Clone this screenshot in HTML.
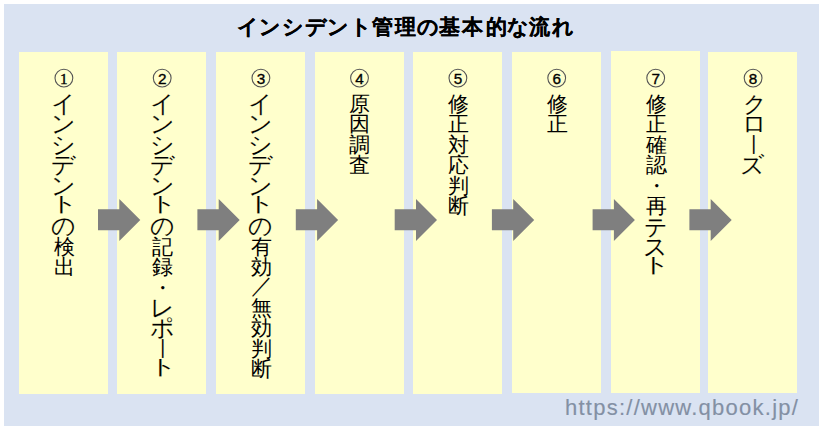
<!DOCTYPE html>
<html lang="ja"><head><meta charset="utf-8"><style>
*{margin:0;padding:0;box-sizing:border-box}
html,body{width:822px;height:430px;background:#fff;overflow:hidden}
body{position:relative;font-family:"Liberation Sans",sans-serif;color:#000}
.bg{position:absolute;left:4px;top:4px;width:815px;height:422px;background:#dae3f2}
.title{position:absolute;left:0;top:13.7px;font-size:21px;font-weight:bold;line-height:26px;white-space:nowrap;color:#000;-webkit-text-stroke:0.12px #000}
.title span{position:absolute;top:0;width:22.3px;text-align:center}
.col{position:absolute;width:89.2px;background:#ffffcc}
.arr{position:absolute;left:0;top:0}
.arr polygon{fill:#7f7f7f}
.txt{position:absolute;width:89.2px;text-align:center;font-size:20.5px;line-height:20.4px;color:#000}
.txt div{height:20.4px}
.txt span{display:inline-block}
.txt span{-webkit-text-stroke:0.1px #ffffcc}
.url{position:absolute;left:565px;top:395px;font-size:22px;line-height:26px;color:#8390a4;white-space:nowrap;letter-spacing:1.25px;-webkit-text-stroke:0.15px #8390a4}
</style></head><body>
<div class="bg"></div>
<div class="title"><span style="left:237.2px">イ</span><span style="left:259.15px">ン</span><span style="left:281.6px">シ</span><span style="left:304.75px">デ</span><span style="left:327.2px">ン</span><span style="left:349.55px">ト</span><span style="left:371.75px">管</span><span style="left:394.3px">理</span><span style="left:416.7px">の</span><span style="left:438.2px">基</span><span style="left:461.7px">本</span><span style="left:485.1px">的</span><span style="left:506.75px">な</span><span style="left:528.55px">流</span><span style="left:551.55px">れ</span></div>
<div class="col" style="left:19px;top:52px;height:342.0px"></div><div class="col" style="left:117.3px;top:52px;height:342.0px"></div><div class="col" style="left:216px;top:52px;height:341.8px"></div><div class="col" style="left:314.6px;top:52px;height:342.0px"></div><div class="col" style="left:413px;top:52px;height:341.8px"></div><div class="col" style="left:511.8px;top:52px;height:341.0px"></div><div class="col" style="left:610.8px;top:50.5px;height:342.5px"></div><div class="col" style="left:708.2px;top:52px;height:340.6px"></div><svg class="arr" width="822" height="430" viewBox="0 0 822 430"><polygon points="98.0,209.3 119.3,209.3 119.3,199.1 140.3,220.0 119.3,240.9 119.3,230.3 98.0,230.3"/><polygon points="197.4,209.3 218.7,209.3 218.7,199.1 239.7,220.0 218.7,240.9 218.7,230.3 197.4,230.3"/><polygon points="295.8,209.3 317.1,209.3 317.1,199.1 338.1,220.0 317.1,240.9 317.1,230.3 295.8,230.3"/><polygon points="394.7,209.3 416.0,209.3 416.0,199.1 437.0,220.0 416.0,240.9 416.0,230.3 394.7,230.3"/><polygon points="491.9,209.3 513.2,209.3 513.2,199.1 534.2,220.0 513.2,240.9 513.2,230.3 491.9,230.3"/><polygon points="592.6,209.3 613.9,209.3 613.9,199.1 634.9,220.0 613.9,240.9 613.9,230.3 592.6,230.3"/><polygon points="689.4,209.3 710.7,209.3 710.7,199.1 731.7,220.0 710.7,240.9 710.7,230.3 689.4,230.3"/><circle cx="63.90" cy="78.1" r="8.9" fill="none" stroke="#555" stroke-width="1.1"/><text x="63.90" y="84.0" text-anchor="middle" stroke="#000" stroke-width="0.35" style="font-family:'Liberation Serif', serif;font-weight:normal;font-size:15.3px">1</text><circle cx="162.20" cy="78.1" r="8.9" fill="none" stroke="#555" stroke-width="1.1"/><text x="162.20" y="84.0" text-anchor="middle" stroke="#000" stroke-width="0.35" style="font-family:'Liberation Sans', sans-serif;font-weight:normal;font-size:15.3px">2</text><circle cx="260.90" cy="78.1" r="8.9" fill="none" stroke="#555" stroke-width="1.1"/><text x="260.90" y="84.0" text-anchor="middle" stroke="#000" stroke-width="0.35" style="font-family:'Liberation Sans', sans-serif;font-weight:normal;font-size:15.3px">3</text><circle cx="359.50" cy="78.1" r="8.9" fill="none" stroke="#555" stroke-width="1.1"/><text x="359.50" y="84.0" text-anchor="middle" stroke="#000" stroke-width="0.35" style="font-family:'Liberation Sans', sans-serif;font-weight:normal;font-size:15.3px">4</text><circle cx="457.90" cy="78.1" r="8.9" fill="none" stroke="#555" stroke-width="1.1"/><text x="457.90" y="84.0" text-anchor="middle" stroke="#000" stroke-width="0.35" style="font-family:'Liberation Sans', sans-serif;font-weight:normal;font-size:15.3px">5</text><circle cx="556.70" cy="78.1" r="8.9" fill="none" stroke="#555" stroke-width="1.1"/><text x="556.70" y="84.0" text-anchor="middle" stroke="#000" stroke-width="0.35" style="font-family:'Liberation Sans', sans-serif;font-weight:normal;font-size:15.3px">6</text><circle cx="655.70" cy="78.1" r="8.9" fill="none" stroke="#555" stroke-width="1.1"/><text x="655.70" y="84.0" text-anchor="middle" stroke="#000" stroke-width="0.35" style="font-family:'Liberation Sans', sans-serif;font-weight:normal;font-size:15.3px">7</text><circle cx="753.10" cy="78.1" r="8.9" fill="none" stroke="#555" stroke-width="1.1"/><text x="753.10" y="84.0" text-anchor="middle" stroke="#000" stroke-width="0.35" style="font-family:'Liberation Sans', sans-serif;font-weight:normal;font-size:15.3px">8</text></svg><div class="txt" style="left:19.70px;top:94px"><div><span style="transform:scale(1.15)">イ</span></div><div><span style="transform:scale(1.15)">ン</span></div><div><span style="transform:scale(1.15)">シ</span></div><div><span style="transform:scale(1.15)">デ</span></div><div><span style="transform:scale(1.15)">ン</span></div><div><span style="transform:translate(0.8px,-2.1px) scale(1.32,1.0)">ト</span></div><div><span style="transform:scale(1.15)">の</span></div><div>検</div><div>出</div></div><div class="txt" style="left:118.00px;top:94px"><div><span style="transform:scale(1.15)">イ</span></div><div><span style="transform:scale(1.15)">ン</span></div><div><span style="transform:scale(1.15)">シ</span></div><div><span style="transform:scale(1.15)">デ</span></div><div><span style="transform:scale(1.15)">ン</span></div><div><span style="transform:translate(0.8px,-2.1px) scale(1.32,1.0)">ト</span></div><div><span style="transform:scale(1.15)">の</span></div><div>記</div><div>録</div><div>・</div><div><span style="transform:scale(1.15)">レ</span></div><div><span style="transform:scale(1.15)">ポ</span></div><div><span style="transform:translate(0,-0.3px) rotate(90deg) scale(1.15,0.75)">ー</span></div><div><span style="transform:translate(0.8px,-2.1px) scale(1.32,1.0)">ト</span></div></div><div class="txt" style="left:216.70px;top:94px"><div><span style="transform:scale(1.15)">イ</span></div><div><span style="transform:scale(1.15)">ン</span></div><div><span style="transform:scale(1.15)">シ</span></div><div><span style="transform:scale(1.15)">デ</span></div><div><span style="transform:scale(1.15)">ン</span></div><div><span style="transform:translate(0.8px,-2.1px) scale(1.32,1.0)">ト</span></div><div><span style="transform:scale(1.15)">の</span></div><div>有</div><div>効</div><div><span style="transform:translate(0.4px,-2px) scale(1.05)">／</span></div><div>無</div><div>効</div><div>判</div><div>断</div></div><div class="txt" style="left:315.30px;top:94px"><div>原</div><div>因</div><div>調</div><div>査</div></div><div class="txt" style="left:413.70px;top:94px"><div>修</div><div>正</div><div>対</div><div>応</div><div>判</div><div>断</div></div><div class="txt" style="left:512.50px;top:94px"><div>修</div><div>正</div></div><div class="txt" style="left:611.50px;top:94px"><div>修</div><div>正</div><div>確</div><div>認</div><div>・</div><div>再</div><div><span style="transform:translate(0,0.9px) scale(1.13)">テ</span></div><div><span style="transform:scale(1.15)">ス</span></div><div><span style="transform:translate(0.8px,-2.1px) scale(1.32,1.0)">ト</span></div></div><div class="txt" style="left:708.90px;top:94px"><div><span style="transform:translate(1.6px,0.6px) scale(1.1)">ク</span></div><div><span style="transform:translate(1.2px,0) scale(1.15)">ロ</span></div><div><span style="transform:translate(0,-0.3px) rotate(90deg) scale(1.15,0.75)">ー</span></div><div><span style="transform:scale(1.15)">ズ</span></div></div>
<div class="url">https://www.qbook.jp/</div>
</body></html>
